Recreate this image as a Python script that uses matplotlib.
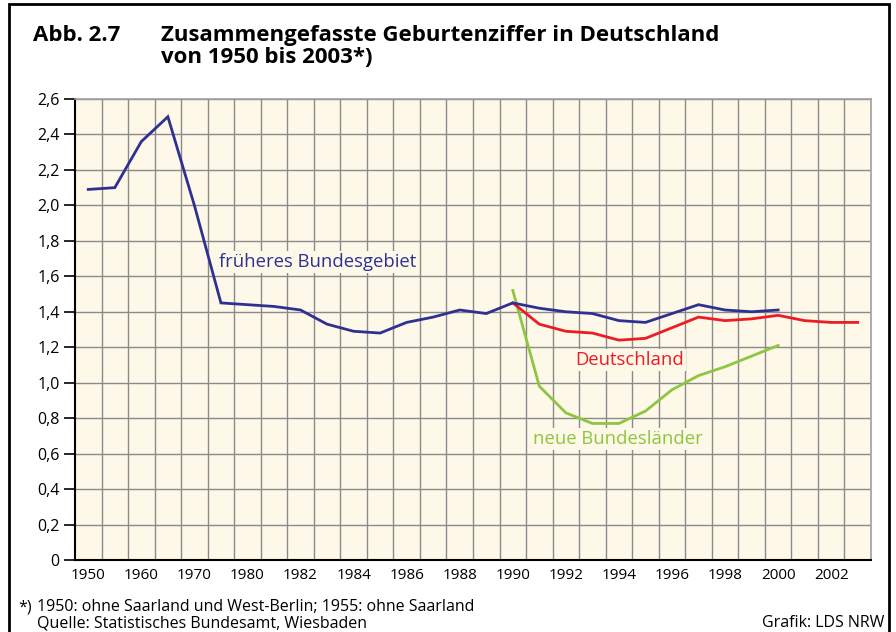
import matplotlib
matplotlib.use("Agg")
import matplotlib.pyplot as plt
from matplotlib.patches import Rectangle
import numpy as np

plt.rcParams['font.family'] = ['Open Sans', 'DejaVu Sans']

years = [1950, 1955, 1960, 1965, 1970, 1975] + list(range(1980, 2004))
tick_labels = ['1950', '1960', '1970', '1980', '1982', '1984', '1986', '1988',
               '1990', '1992', '1994', '1996', '1998', '2000', '2002']

# früheres Bundesgebiet: 1950..1975 (5-year steps), 1980..2000
frueheres = [2.09, 2.10, 2.36, 2.50, 2.00, 1.45,
             1.44, 1.43, 1.41, 1.33, 1.29, 1.28, 1.34, 1.37, 1.41, 1.39,
             1.45, 1.42, 1.40, 1.39, 1.35, 1.34, 1.39, 1.44, 1.41, 1.40, 1.41]
# Deutschland: 1990..2003
deutschland = [1.45, 1.33, 1.29, 1.28, 1.24, 1.25, 1.31, 1.37, 1.35, 1.36,
               1.38, 1.35, 1.34, 1.34]
# neue Bundesländer: 1990..2000
neue = [1.52, 0.98, 0.83, 0.77, 0.77, 0.84, 0.96, 1.04, 1.09, 1.15, 1.21]

yticks = [0, 0.2, 0.4, 0.6, 0.8, 1.0, 1.2, 1.4, 1.6, 1.8, 2.0, 2.2, 2.4, 2.6]
ytick_labels = ['0', '0,2', '0,4', '0,6', '0,8', '1,0', '1,2', '1,4', '1,6',
                '1,8', '2,0', '2,2', '2,4', '2,6']

blue = '#2E3192'
red = '#ED1C24'
green = '#8DC63F'
bg = '#FDF8E8'
gridc = '#8A8A8A'

fig = plt.figure(figsize=(8.96, 6.32), dpi=100)
W, H = 896, 632
ax = fig.add_axes([75 / W, 1 - 560 / H, (871 - 75) / W, (560 - 99) / H])
ax.set_facecolor(bg)

idx = {y: i for i, y in enumerate(years)}
x_fr = [idx[y] for y in years[:len(frueheres)]]
x_de = [idx[y] for y in range(1990, 1990 + len(deutschland))]
x_ne = [idx[y] for y in range(1990, 1990 + len(neue))]

n = len(years)
ax.set_xlim(-0.5, n - 0.5)
ax.set_ylim(0, 2.6)

# grid
for b in np.arange(-0.5, n, 1.0)[1:]:
    ax.axvline(b, color=gridc, lw=1.0, zorder=1)
for yv in yticks[1:]:
    ax.axhline(yv, color=gridc, lw=1.0, zorder=1)

ax.plot(x_ne, neue, color=green, lw=2.0, zorder=3, solid_joinstyle='miter')
ax.plot(x_de, deutschland, color=red, lw=2.0, zorder=4, solid_joinstyle='miter')
ax.plot(x_fr, frueheres, color=blue, lw=2.0, zorder=5, solid_joinstyle='miter')

ax.set_yticks(yticks)
ax.set_yticklabels(ytick_labels)
ax.set_xticks(list(range(0, n, 2)))
ax.set_xticklabels(tick_labels)
ax.tick_params(axis='y', length=8, width=1.2, color='black', labelsize=11.5, pad=3)
ax.tick_params(axis='x', length=0, labelsize=11, pad=6)

for s in ['top', 'right']:
    ax.spines[s].set_color('#A0A0A0')
    ax.spines[s].set_linewidth(1.2)
for s in ['left', 'bottom']:
    ax.spines[s].set_color('black')
    ax.spines[s].set_linewidth(1.5)

box = dict(facecolor=bg, edgecolor='none', pad=1.5)
ax.text(4.93, 1.68, 'früheres Bundesgebiet', color=blue, fontsize=13.3,
        ha='left', va='center', zorder=6, bbox=box)
ax.text(18.35, 1.13, 'Deutschland', color=red, fontsize=13.3,
        ha='left', va='center', zorder=6, bbox=box)
ax.text(16.76, 0.68, 'neue Bundesländer', color=green, fontsize=13.3,
        ha='left', va='center', zorder=6, bbox=box)

# frame
fig.patches.append(Rectangle((9 / W, -0.02), (889 - 9) / W, 1.02 - 4 / H,
                             transform=fig.transFigure, fill=False,
                             edgecolor='black', lw=2.0))

fig.text(33 / W, 1 - 41 / H, 'Abb. 2.7', fontsize=16, fontweight='bold',
         ha='left', va='baseline')
fig.text(161 / W, 1 - 41 / H, 'Zusammengefasste Geburtenziffer in Deutschland',
         fontsize=16, fontweight='bold', ha='left', va='baseline')
fig.text(161 / W, 1 - 63 / H, 'von 1950 bis 2003*)', fontsize=16,
         fontweight='bold', ha='left', va='baseline')

fig.text(18 / W, 1 - 611 / H, '*)', fontsize=11.5, ha='left', va='baseline')
fig.text(37 / W, 1 - 611 / H, '1950: ohne Saarland und West-Berlin; 1955: ohne Saarland',
         fontsize=11.5, ha='left', va='baseline')
fig.text(37 / W, 1 - 627 / H, 'Quelle: Statistisches Bundesamt, Wiesbaden',
         fontsize=11.5, ha='left', va='baseline')
fig.text(884 / W, 1 - 627 / H, 'Grafik: LDS NRW', fontsize=11.5, ha='right',
         va='baseline')

fig.savefig('out.png', dpi=100)
